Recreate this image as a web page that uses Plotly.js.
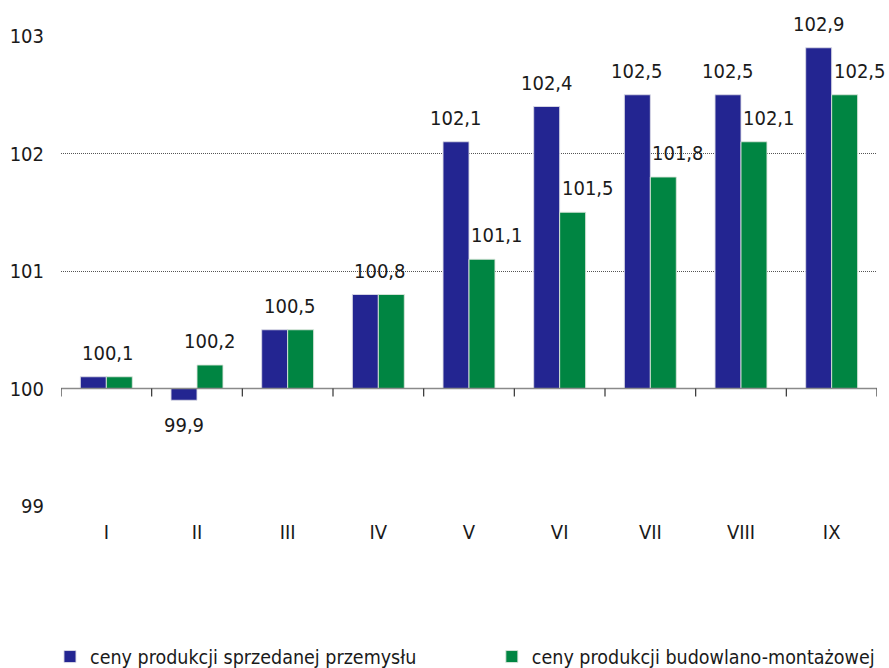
<!DOCTYPE html>
<html>
<head>
<meta charset="utf-8">
<script src="https://cdn.plot.ly/plotly-3.0.1.min.js"></script>
<style>
  html, body { margin: 0; padding: 0; background: #fff; }
  #chart { width: 889px; height: 668px; }
</style>
</head>
<body>
<div id="chart"></div>
<script>
const categories = ["I", "II", "III", "IV", "V", "VI", "VII", "VIII", "IX"];
const industryPrices = [100.1, 99.9, 100.5, 100.8, 102.1, 102.4, 102.5, 102.5, 102.9];
const constructionPrices = [100.1, 100.2, 100.5, 100.8, 101.1, 101.5, 101.8, 102.1, 102.5];
const seriesNames = ["ceny produkcji sprzedanej przemysłu", "ceny produkcji budowlano-montażowej"];
const baseValue = 100;
const yTicks = [99, 100, 101, 102, 103];

const FONT = "DejaVu Sans Condensed, Noto Sans, sans-serif";
const BLUE = "#232591";
const GREEN = "#008542";
const TEXT = "#1a1a1a";

const fmt = v => v.toFixed(1).replace(".", ",");

const traces = [
  {
    type: "bar",
    name: seriesNames[0],
    legend: "legend",
    x: categories,
    y: industryPrices.map(v => v - baseValue),
    base: baseValue,
    marker: { color: BLUE, line: { color: "rgba(220,220,230,0.9)", width: 1 } },
    hoverinfo: "skip"
  },
  {
    type: "bar",
    name: seriesNames[1],
    legend: "legend2",
    x: categories,
    y: constructionPrices.map(v => v - baseValue),
    base: baseValue,
    marker: { color: GREEN, line: { color: "rgba(220,230,220,0.9)", width: 1 } },
    hoverinfo: "skip"
  }
];

const annotations = [];
categories.forEach((c, i) => {
  const a = industryPrices[i], b = constructionPrices[i];
  const common = { x: c, xref: "x", yref: "y", showarrow: false,
    font: { family: FONT, size: 20, color: TEXT } };
  if (a === b) {
    annotations.push(Object.assign({}, common, { y: a, text: fmt(a), yanchor: "bottom", yshift: 10, xshift: 2 }));
  } else {
    if (a < baseValue) {
      annotations.push(Object.assign({}, common, { y: a, text: fmt(a), yanchor: "top", yshift: -11, xshift: -13 }));
    } else {
      annotations.push(Object.assign({}, common, { y: a, text: fmt(a), yanchor: "bottom", yshift: 10, xshift: -13 }));
    }
    annotations.push(Object.assign({}, common, { y: b, text: fmt(b), yanchor: "bottom", yshift: 10,
      xshift: 13 + (b < a ? 15 : 0) }));
  }
});

const shapes = [
  { type: "line", xref: "paper", yref: "y", x0: 0, x1: 1, y0: baseValue, y1: baseValue,
    line: { color: "#8a8a8a", width: 1.5 } }
];
for (let k = 0; k <= categories.length; k++) {
  shapes.push({ type: "line", xref: "x", yref: "y", x0: k - 0.5, x1: k - 0.5,
    ysizemode: "pixel", yanchor: baseValue, y0: 0, y1: -8,
    line: { color: "#333", width: 1.2 } });
}

const legendCommon = {
  orientation: "h",
  xanchor: "left",
  y: -0.321, yanchor: "middle",
  font: { family: FONT, size: 19.5, color: TEXT },
  bgcolor: "rgba(0,0,0,0)"
};

const layout = {
  width: 889, height: 668,
  margin: { l: 61, r: 12, t: 36, b: 162, autoexpand: false },
  paper_bgcolor: "#fff", plot_bgcolor: "#fff",
  font: { family: FONT, size: 20, color: TEXT },
  barmode: "group",
  bargap: 0.427,
  bargroupgap: 0,
  showlegend: true,
  legend: Object.assign({}, legendCommon, { x: -0.0135 }),
  legend2: Object.assign({}, legendCommon, { x: 0.528 }),
  xaxis: {
    type: "category",
    range: [-0.5, categories.length - 0.5],
    autorange: false,
    showgrid: false, zeroline: false, showline: false,
    ticks: "", ticklabelstandoff: 12,
    tickfont: { family: FONT, size: 20, color: TEXT },
    fixedrange: true
  },
  yaxis: {
    range: [99, 103],
    tickvals: yTicks,
    ticktext: yTicks.map(String),
    showgrid: true, gridcolor: "#555", gridwidth: 1, griddash: "1px,1px",
    zeroline: false, showline: false, ticks: "",
    ticklabelstandoff: 16,
    tickfont: { family: FONT, size: 20, color: TEXT },
    fixedrange: true
  },
  shapes: shapes,
  annotations: annotations
};

Plotly.newPlot("chart", traces, layout, { displayModeBar: false, staticPlot: true });
</script>
</body>
</html>
